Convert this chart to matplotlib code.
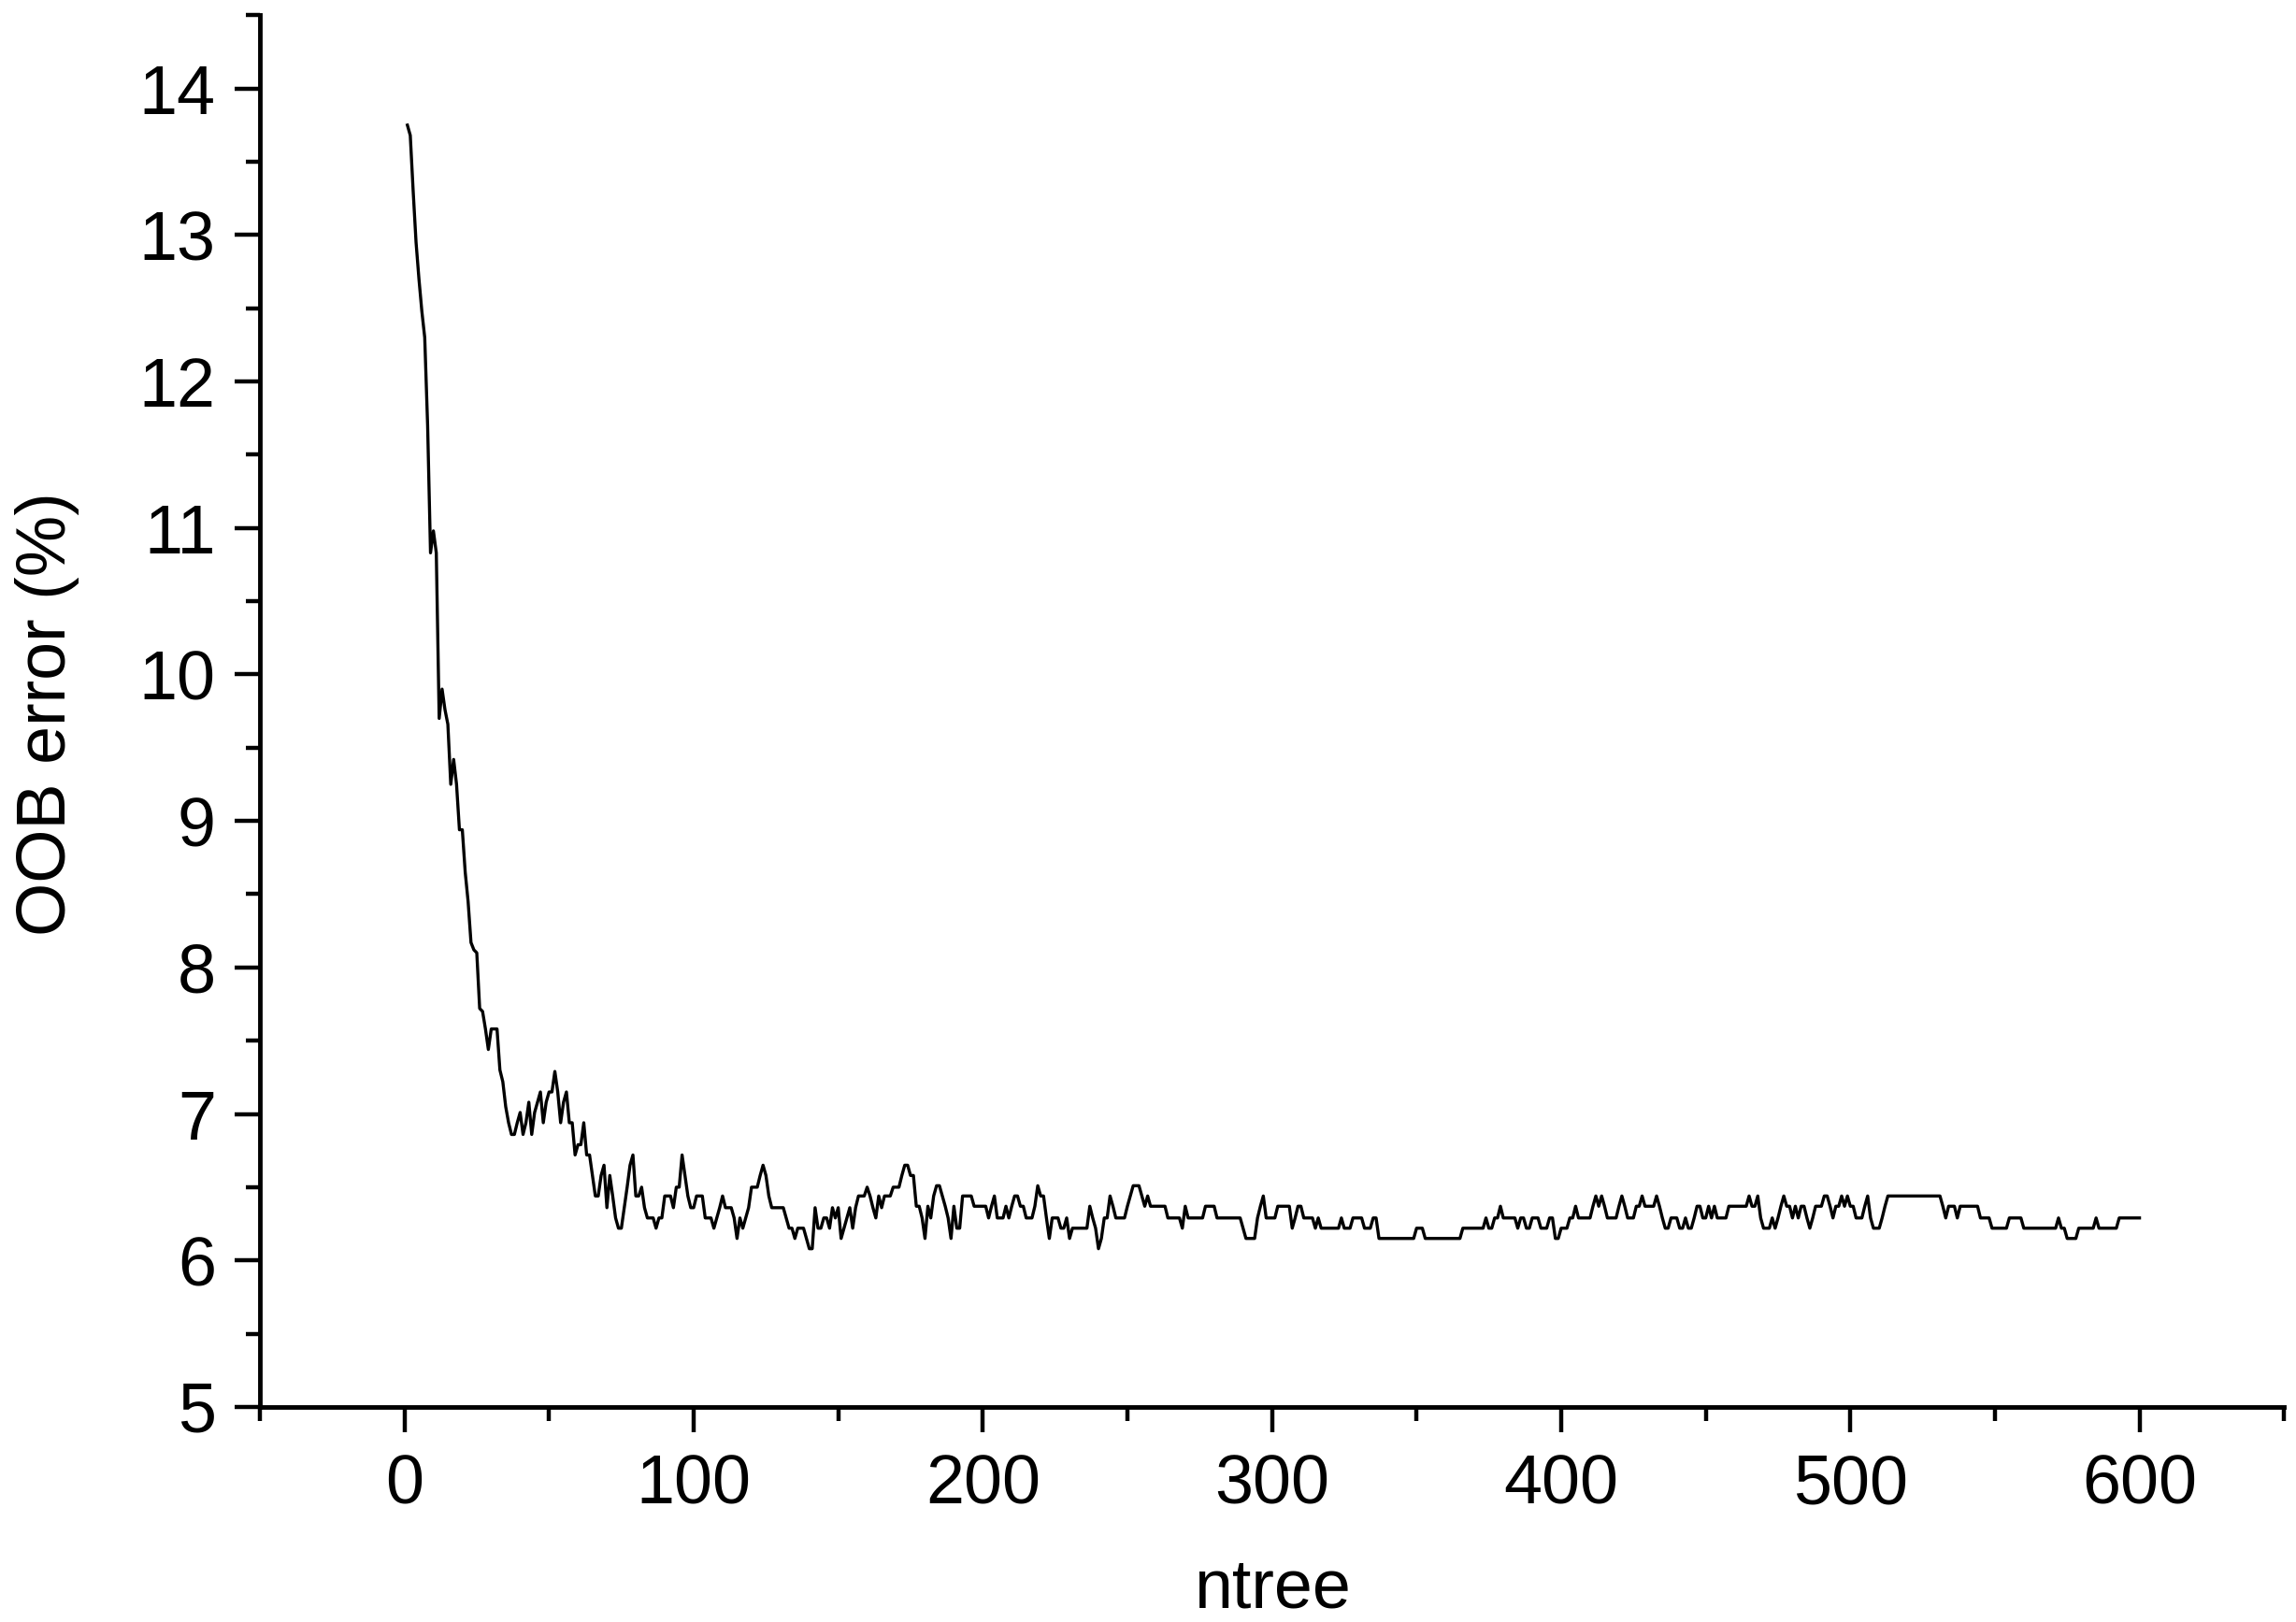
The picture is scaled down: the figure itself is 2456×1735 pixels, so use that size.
import matplotlib
matplotlib.use("Agg")
import matplotlib.pyplot as plt
from matplotlib.ticker import MultipleLocator
import numpy as np

plt.rcParams['font.family'] = ['Liberation Sans', 'DejaVu Sans']

# -- Data (OOB error in % per number of trees)
oob_error = [
    13.75, 13.68, 13.30, 12.95, 12.70, 12.48, 12.30, 11.70, 10.83, 10.98, 10.83, 9.70, 9.90, 9.76, 9.66, 9.25, 9.42, 9.25, 8.94, 8.94,
    8.65, 8.45, 8.17, 8.12, 8.10, 7.72, 7.70, 7.58, 7.44, 7.58, 7.58, 7.58, 7.30, 7.22, 7.05, 6.94, 6.86, 6.86, 6.94, 7.01,
    6.86, 6.94, 7.08, 6.86, 7.01, 7.08, 7.15, 6.94, 7.08, 7.15, 7.15, 7.29, 7.15, 6.94, 7.08, 7.15, 6.94, 6.94, 6.72, 6.79,
    6.79, 6.94, 6.72, 6.72, 6.58, 6.44, 6.44, 6.58, 6.65, 6.36, 6.58, 6.44, 6.29, 6.22, 6.22, 6.36, 6.50, 6.65, 6.72, 6.44,
    6.44, 6.50, 6.36, 6.29, 6.29, 6.29, 6.22, 6.29, 6.29, 6.44, 6.44, 6.44, 6.36, 6.50, 6.50, 6.72, 6.58, 6.44, 6.36, 6.36,
    6.44, 6.44, 6.44, 6.29, 6.29, 6.29, 6.22, 6.29, 6.36, 6.44, 6.36, 6.36, 6.36, 6.29, 6.15, 6.29, 6.22, 6.29, 6.36, 6.50,
    6.50, 6.50, 6.58, 6.65, 6.58, 6.44, 6.36, 6.36, 6.36, 6.36, 6.36, 6.29, 6.22, 6.22, 6.15, 6.22, 6.22, 6.22, 6.15, 6.08,
    6.08, 6.36, 6.22, 6.22, 6.29, 6.29, 6.22, 6.36, 6.29, 6.36, 6.15, 6.22, 6.29, 6.36, 6.22, 6.36, 6.44, 6.44, 6.44, 6.50,
    6.44, 6.36, 6.29, 6.44, 6.36, 6.44, 6.44, 6.44, 6.50, 6.50, 6.50, 6.58, 6.65, 6.65, 6.58, 6.58, 6.37, 6.37, 6.29, 6.15,
    6.37, 6.29, 6.44, 6.51, 6.51, 6.44, 6.37, 6.29, 6.15, 6.37, 6.22, 6.22, 6.44, 6.44, 6.44, 6.44, 6.37, 6.37, 6.37, 6.37,
    6.37, 6.29, 6.37, 6.44, 6.29, 6.29, 6.29, 6.37, 6.29, 6.37, 6.44, 6.44, 6.37, 6.37, 6.29, 6.29, 6.29, 6.37, 6.51, 6.44,
    6.44, 6.29, 6.15, 6.29, 6.29, 6.29, 6.22, 6.22, 6.29, 6.15, 6.22, 6.22, 6.22, 6.22, 6.22, 6.22, 6.37, 6.29, 6.22, 6.08,
    6.15, 6.29, 6.29, 6.44, 6.37, 6.29, 6.29, 6.29, 6.29, 6.37, 6.44, 6.51, 6.51, 6.51, 6.44, 6.37, 6.44, 6.37, 6.37, 6.37,
    6.37, 6.37, 6.37, 6.29, 6.29, 6.29, 6.29, 6.29, 6.22, 6.37, 6.29, 6.29, 6.29, 6.29, 6.29, 6.29, 6.37, 6.37, 6.37, 6.37,
    6.29, 6.29, 6.29, 6.29, 6.29, 6.29, 6.29, 6.29, 6.29, 6.22, 6.15, 6.15, 6.15, 6.15, 6.29, 6.37, 6.44, 6.29, 6.29, 6.29,
    6.29, 6.37, 6.37, 6.37, 6.37, 6.37, 6.22, 6.29, 6.37, 6.37, 6.29, 6.29, 6.29, 6.29, 6.22, 6.29, 6.22, 6.22, 6.22, 6.22,
    6.22, 6.22, 6.22, 6.29, 6.22, 6.22, 6.22, 6.29, 6.29, 6.29, 6.29, 6.22, 6.22, 6.22, 6.29, 6.29, 6.15, 6.15, 6.15, 6.15,
    6.15, 6.15, 6.15, 6.15, 6.15, 6.15, 6.15, 6.15, 6.15, 6.22, 6.22, 6.22, 6.15, 6.15, 6.15, 6.15, 6.15, 6.15, 6.15, 6.15,
    6.15, 6.15, 6.15, 6.15, 6.15, 6.22, 6.22, 6.22, 6.22, 6.22, 6.22, 6.22, 6.22, 6.29, 6.22, 6.22, 6.29, 6.29, 6.37, 6.29,
    6.29, 6.29, 6.29, 6.29, 6.22, 6.29, 6.29, 6.22, 6.22, 6.29, 6.29, 6.29, 6.22, 6.22, 6.22, 6.29, 6.29, 6.15, 6.15, 6.22,
    6.22, 6.22, 6.29, 6.29, 6.37, 6.29, 6.29, 6.29, 6.29, 6.29, 6.37, 6.44, 6.37, 6.44, 6.37, 6.29, 6.29, 6.29, 6.29, 6.37,
    6.44, 6.37, 6.29, 6.29, 6.29, 6.37, 6.37, 6.44, 6.37, 6.37, 6.37, 6.37, 6.44, 6.37, 6.29, 6.22, 6.22, 6.29, 6.29, 6.29,
    6.22, 6.22, 6.29, 6.22, 6.22, 6.29, 6.37, 6.37, 6.29, 6.29, 6.37, 6.29, 6.37, 6.29, 6.29, 6.29, 6.29, 6.37, 6.37, 6.37,
    6.37, 6.37, 6.37, 6.37, 6.44, 6.37, 6.37, 6.44, 6.29, 6.22, 6.22, 6.22, 6.29, 6.22, 6.29, 6.37, 6.44, 6.37, 6.37, 6.29,
    6.37, 6.29, 6.37, 6.37, 6.29, 6.22, 6.29, 6.37, 6.37, 6.37, 6.44, 6.44, 6.37, 6.29, 6.37, 6.37, 6.44, 6.37, 6.44, 6.37,
    6.37, 6.29, 6.29, 6.29, 6.37, 6.44, 6.29, 6.22, 6.22, 6.22, 6.29, 6.37, 6.44, 6.44, 6.44, 6.44, 6.44, 6.44, 6.44, 6.44,
    6.44, 6.44, 6.44, 6.44, 6.44, 6.44, 6.44, 6.44, 6.44, 6.44, 6.44, 6.37, 6.29, 6.37, 6.37, 6.37, 6.29, 6.37, 6.37, 6.37,
    6.37, 6.37, 6.37, 6.37, 6.29, 6.29, 6.29, 6.29, 6.22, 6.22, 6.22, 6.22, 6.22, 6.22, 6.29, 6.29, 6.29, 6.29, 6.29, 6.22,
    6.22, 6.22, 6.22, 6.22, 6.22, 6.22, 6.22, 6.22, 6.22, 6.22, 6.22, 6.29, 6.22, 6.22, 6.15, 6.15, 6.15, 6.15, 6.22, 6.22,
    6.22, 6.22, 6.22, 6.22, 6.29, 6.22, 6.22, 6.22, 6.22, 6.22, 6.22, 6.22, 6.29, 6.29, 6.29, 6.29, 6.29, 6.29, 6.29, 6.29,
]
ntree = np.arange(1, len(oob_error) + 1)

x_ticks = [0, 100, 200, 300, 400, 500, 600]
y_ticks = [5, 6, 7, 8, 9, 10, 11, 12, 13, 14]

# -- Figure
fig = plt.figure(figsize=(24.56, 17.35), dpi=100)
ax = fig.add_axes([0.1132, 0.1326, 0.8816, 0.858])

ax.plot(ntree, oob_error, color='black', linewidth=2.4)

ax.set_xlim(-50, 650)
ax.set_ylim(5, 14.5)

# Origin style: only left & bottom axes, outward ticks
ax.spines['top'].set_visible(False)
ax.spines['right'].set_visible(False)
ax.spines['left'].set_linewidth(3.5)
ax.spines['bottom'].set_linewidth(3.5)

ax.set_xticks(x_ticks)
ax.set_yticks(y_ticks)
ax.xaxis.set_minor_locator(MultipleLocator(50))
ax.yaxis.set_minor_locator(MultipleLocator(0.5))
ax.tick_params(which='major', direction='out', length=19.5, width=3.2, labelsize=53)
ax.tick_params(which='minor', direction='out', length=11, width=3.2)
ax.tick_params(axis='x', which='major', pad=16)
ax.tick_params(axis='y', which='major', pad=14.5)

ax.set_xlabel('ntree', fontsize=53)
ax.set_ylabel('OOB error (%)', fontsize=53)
ax.xaxis.set_label_coords(0.5, -0.1444)
ax.xaxis.label.set_verticalalignment('baseline')
ax.yaxis.set_label_coords(-0.0961, 0.498)
ax.yaxis.label.set_verticalalignment('baseline')

fig.savefig('out.png', dpi=100)
